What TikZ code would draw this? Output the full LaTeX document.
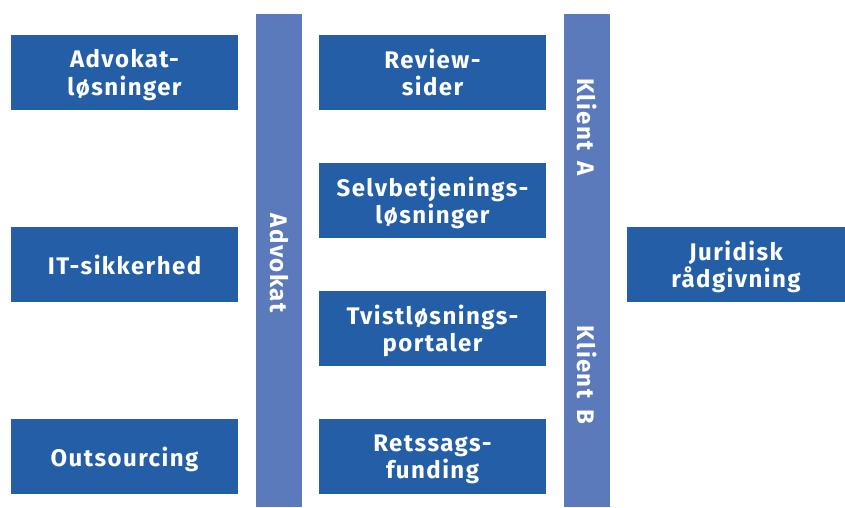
\documentclass[tikz,border=0pt]{standalone}
\usepackage{fontspec}
\setmainfont{Fira Sans}[LetterSpace=6]
\usetikzlibrary{positioning}

\definecolor{boxblue}{RGB}{36,94,167}
\definecolor{barblue}{RGB}{91,122,187}

\begin{document}
\begin{tikzpicture}[x=1pt,y=-1pt,node distance=53pt,
	font=\bfseries\fontsize{24}{27.5}\selectfont]
	\tikzstyle{every node}=[inner sep=0pt,outer sep=0pt,text=white,align=center]
	\tikzstyle{item}=[fill=boxblue,minimum width=227pt,minimum height=75pt,text depth=0pt]
	\tikzstyle{bar}=[fill=barblue,minimum width=46pt,minimum height=493pt]
	\useasboundingbox (0,0) rectangle (845,508);
	% the two vertical bars
	\node[bar] (advbar) at (279,260.5) {};
	\node[bar] (klibar) at (587,260.5) {};
	\node[rotate=-90] (adv)  at (279,263) {Advokat};
	\node[rotate=-90] (klA)  at (587,127) {Klient\hspace{0.45em}A};
	\node[rotate=-90] (klB)  at (587,375) {Klient\hspace{0.45em}B};
	% left column
	\node[item] (advlos) at (124.5,72.5)  {Advokat-\\løsninger};
	\node[item] (itsik)  at (124.5,264.5) {IT-sikkerhed};
	\node[item] (outs)   at (124.5,456.5) {Outsourcing};
	% middle column
	\node[item] (review)              at (432.5,72.5) {Review-\\sider};
	\node[item] (selvb)  [below=of review] {Selvbetjenings-\\løsninger};
	\node[item] (tvist)  [below=of selvb]  {Tvistløsnings-\\portaler};
	\node[item] (retss)  [below=of tvist]  {Retssags-\\funding};
	% right side
	\node[item,minimum width=218pt] (jur) at (736,264.5) {Juridisk\\rådgivning};
\end{tikzpicture}
\end{document}
